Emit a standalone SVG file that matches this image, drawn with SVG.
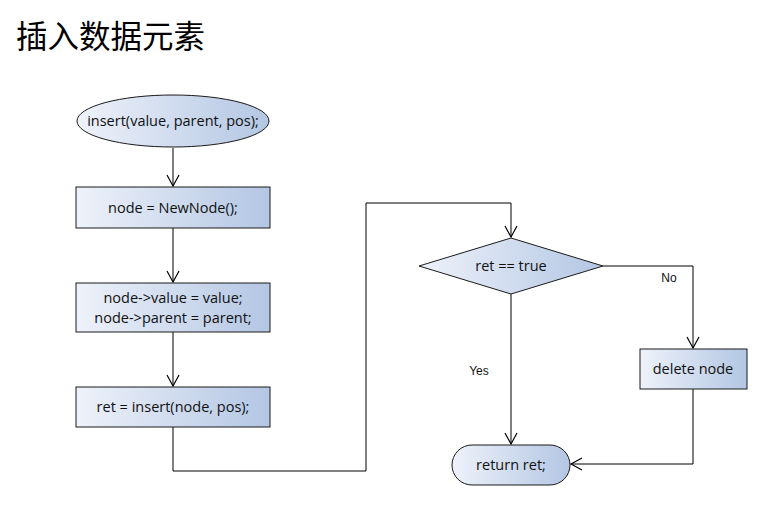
<svg xmlns="http://www.w3.org/2000/svg" width="775" height="512" viewBox="0 0 775 512">
<defs>
<linearGradient id="g" x1="0" y1="0" x2="1" y2="0">
<stop offset="0" stop-color="#eef2fa"/>
<stop offset="1" stop-color="#b3c6e3"/>
</linearGradient>
<marker id="a" markerWidth="14" markerHeight="14" refX="12" refY="7" orient="auto" markerUnits="userSpaceOnUse">
<path d="M1,1 L12,7 L1,13" fill="none" stroke="#000" stroke-width="1.2"/>
</marker>
<style>
.s{fill:url(#g);stroke:#1a1a1a;stroke-width:1}
.t{font-family:"Open Sans","Noto Sans",sans-serif;font-size:14.5px;fill:#111;text-anchor:middle}
.l{font-family:"Liberation Sans",Arial,sans-serif;font-size:12px;fill:#111;text-anchor:middle}
.c{fill:none;stroke:#000;stroke-width:1}
</style>
</defs>
<rect width="775" height="512" fill="#fff"/>
<text x="16" y="48" font-family="'Noto Sans CJK SC',sans-serif" font-size="31.5" fill="#000">插入数据元素</text>
<g id="connectors">
<path class="c" d="M173,148 V186" marker-end="url(#a)"/>
<path class="c" d="M173,228 V282" marker-end="url(#a)"/>
<path class="c" d="M173,332 V386" marker-end="url(#a)"/>
<path class="c" d="M173,427 V471 H366 V203 H511 V237" marker-end="url(#a)"/>
<path class="c" d="M603,266 H693 V348" marker-end="url(#a)"/>
<path class="c" d="M511,294 V444" marker-end="url(#a)"/>
<path class="c" d="M693,389 V464 H571" marker-end="url(#a)"/>
<text class="l" x="669" y="282">No</text>
<text class="l" x="479" y="375">Yes</text>
</g>
<g id="start">
<ellipse class="s" cx="173" cy="121" rx="96" ry="26"/>
<text class="t" x="173" y="126">insert(value, parent, pos);</text>
</g>
<g id="newnode">
<rect class="s" x="76" y="187" width="194" height="41"/>
<text class="t" x="173" y="213">node = NewNode();</text>
</g>
<g id="assign">
<rect class="s" x="76" y="283" width="194" height="49"/>
<text class="t" x="173" y="303">node-&gt;value = value;</text>
<text class="t" x="173" y="323">node-&gt;parent = parent;</text>
</g>
<g id="insert">
<rect class="s" x="76" y="387" width="194" height="40"/>
<text class="t" x="173" y="412">ret = insert(node, pos);</text>
</g>
<g id="decision">
<polygon class="s" points="511,238 603,266 511,294 419,266"/>
<text class="t" x="511" y="271">ret == true</text>
</g>
<g id="delete">
<rect class="s" x="640" y="349" width="107" height="40"/>
<text class="t" x="693" y="374">delete node</text>
</g>
<g id="return">
<rect class="s" x="452" y="445" width="118" height="40" rx="20" ry="20"/>
<text class="t" x="511" y="470">return ret;</text>
</g>
</svg>
